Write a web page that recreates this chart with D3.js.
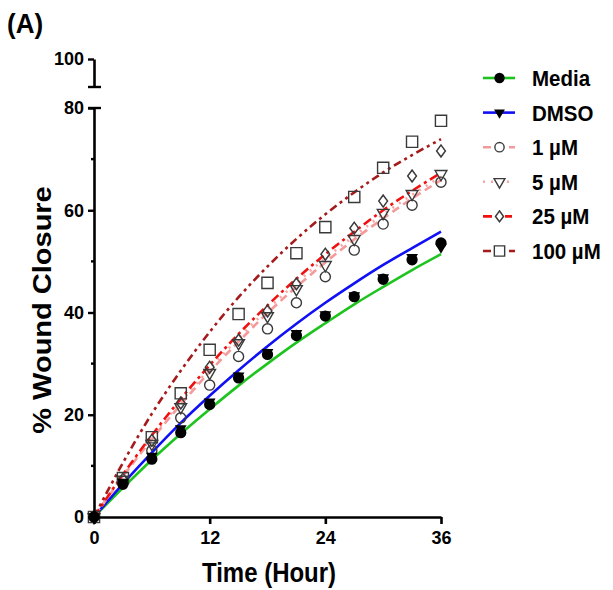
<!DOCTYPE html>
<html>
<head>
<meta charset="utf-8">
<script src="https://cdn.jsdelivr.net/npm/d3@7"></script>
<style>
  body { margin: 0; background: #fff; }
  svg text { font-family: Arial, 'Liberation Sans', sans-serif; font-weight: bold; fill: #000; }
</style>
</head>
<body>
<svg id="chart" width="613" height="590"></svg>
<script>
// time points (hours)
const hours = [0, 3, 6, 9, 12, 15, 18, 21, 24, 27, 30, 33, 36]

// measured % wound closure (markers)
const media   = [0, 6.4, 11.3, 16.5, 22.0, 27.2, 31.8, 35.5, 39.3, 43.1, 46.5, 50.3, 53.6]
const dmso    = [0, 6.8, 11.9, 17.3, 22.5, 27.6, 32.2, 35.9, 39.6, 43.3, 46.8, 50.8, 52.8]
const um1     = [0, 7.0, 13.0, 19.4, 25.8, 31.4, 36.8, 41.9, 47.0, 52.2, 57.3, 61.0, 65.5]
const um5     = [0, 7.3, 14.3, 21.5, 28.2, 34.0, 39.3, 44.6, 49.3, 54.4, 59.5, 63.2, 67.1]
const um25    = [0, 7.4, 15.0, 22.3, 29.3, 34.6, 40.3, 45.6, 51.4, 56.5, 61.8, 66.7, 71.6]
const um100   = [0, 7.6, 15.6, 24.2, 32.7, 39.7, 45.8, 51.6, 56.7, 62.6, 68.3, 73.4, 77.5]

// fitted curves at the same time points
const fitMedia = [0, 5.7, 11.2, 16.3, 21.1, 25.7, 30.0, 34.1, 37.9, 41.6, 45.0, 48.3, 51.4]
const fitDmso  = [0, 6.5, 12.6, 18.4, 23.7, 28.7, 33.4, 37.8, 41.9, 45.7, 49.3, 52.6, 55.8]
const fit1     = [0, 7.9, 15.2, 22.0, 28.4, 34.3, 39.9, 45.0, 49.8, 54.3, 58.4, 62.3, 65.9]
const fit5     = [0, 8.1, 15.6, 22.5, 29.0, 35.0, 40.6, 45.8, 50.6, 55.0, 59.2, 63.0, 66.6]
const fit25    = [0, 8.3, 16.0, 23.1, 29.7, 35.8, 41.4, 46.6, 51.4, 55.8, 60.0, 63.8, 67.3]
const fit100   = [0, 10.6, 20.2, 28.6, 36.2, 43.0, 49.0, 54.4, 59.2, 63.5, 67.4, 70.8, 73.9]

const labels = ['Media', 'DMSO', '1 \u00b5M', '5 \u00b5M', '25 \u00b5M', '100 \u00b5M']
const xTicks = [0, 12, 24, 36]
const yTicks = [0, 20, 40, 60, 80]
const yMinor = [10, 30, 50, 70]

const series = [
  { name: labels[0], pts: media, fit: fitMedia, color: '#1ec41e', dash: null, shape: 'circle', filled: true },
  { name: labels[1], pts: dmso, fit: fitDmso, color: '#1010f5', dash: null, shape: 'tri', filled: true },
  { name: labels[2], pts: um1, fit: fit1, color: '#f59a9a', dash: '8,5', shape: 'circle', filled: false },
  { name: labels[3], pts: um5, fit: fit5, color: '#f7a6a6', dash: '2,6', shape: 'tri', filled: false },
  { name: labels[4], pts: um25, fit: fit25, color: '#f01010', dash: '9,4,3,4', shape: 'diamond', filled: false },
  { name: labels[5], pts: um100, fit: fit100, color: '#a51a1a', dash: '8,4,3,4,3,4', shape: 'square', filled: false }
]

function draw() {
  const svg = d3.select('#chart')
  svg.selectAll('*').remove()

  const x = d3.scaleLinear().domain([0, 36]).range([94, 441])
  const y = d3.scaleLinear().domain([0, 80]).range([517, 108])
  const yTop = d3.scaleLinear().domain([95, 100]).range([87, 59])

  svg.append('text')
    .attr('transform', 'translate(7,33) scale(1,1.05)')
    .style('font-size', '26px')
    .text('(A)')

  // curves
  const line = d3.line()
    .x((d, i) => x(hours[i]))
    .y(d => y(d))
    .curve(d3.curveMonotoneX)

  series.forEach(s => {
    svg.append('path')
      .attr('d', line(s.fit))
      .attr('fill', 'none')
      .attr('stroke', s.color)
      .attr('stroke-width', 2.6)
      .attr('stroke-dasharray', s.dash)
  })

  // markers
  const sym = {
    circle: d3.symbol().type(d3.symbolCircle),
    tri: d3.symbol().type(d3.symbolTriangle),
    diamond: d3.symbol().type(d3.symbolDiamond),
    square: d3.symbol().type(d3.symbolSquare)
  }
  const sizes = { circle: 80, tri: 60, diamond: 50, square: 125 }

  function marker(g, s, cx, cy, k = 1) {
    const size = (s.filled && s.shape === 'circle' ? 100 : sizes[s.shape]) * k
    const p = g.append('path')
      .attr('d', sym[s.shape].size(size)())
      .attr('transform', `translate(${cx},${cy})` + (s.shape === 'tri' ? ' rotate(180)' : '') +
        (s.shape === 'diamond' ? ' scale(1.15,0.9)' : ''))
    if (s.filled) p.attr('fill', '#000')
    else p.attr('fill', 'none').attr('stroke', '#3a3a3a').attr('stroke-width', 1.4)
  }

  const markers = svg.append('g')
  series.slice().reverse().forEach(s => {
    s.pts.forEach((v, i) => marker(markers, s, x(hours[i]), y(v)))
  })

  // x axis
  const xAxis = svg.append('g')
    .attr('transform', 'translate(0,517)')
    .call(d3.axisBottom(x).tickValues(xTicks).tickSize(7).tickSizeOuter(0).tickPadding(7))
  xAxis.select('.domain').attr('stroke-width', 2.6)
  xAxis.selectAll('.tick line').attr('stroke-width', 2.6)
  xAxis.selectAll('.tick text').style('font-size', '18px')

  // y axis, lower part
  const yAxis = svg.append('g')
    .attr('transform', 'translate(94,0)')
    .call(d3.axisLeft(y).tickValues(yTicks).tickSize(6).tickSizeOuter(0).tickPadding(4))
  yAxis.select('.domain').attr('stroke-width', 2.6)
  yAxis.selectAll('.tick line').attr('stroke-width', 2.4)
  yAxis.selectAll('.tick text').style('font-size', '18px')

  svg.append('g').selectAll('line')
    .data(yMinor)
    .join('line')
    .attr('x1', 91).attr('x2', 94)
    .attr('y1', d => y(d)).attr('y2', d => y(d))
    .attr('stroke', '#000').attr('stroke-width', 2.4)

  // y axis, upper part above the break
  const yAxisTop = svg.append('g')
    .attr('transform', 'translate(94,0)')
    .call(d3.axisLeft(yTop).tickValues([100]).tickFormat(d3.format('d'))
      .tickSize(6).tickSizeOuter(0).tickPadding(4))
  yAxisTop.select('.domain').attr('stroke-width', 2.6)
  yAxisTop.selectAll('.tick line').attr('stroke-width', 2.4)
  yAxisTop.selectAll('.tick text').style('font-size', '18px')

  // break caps
  svg.append('g').selectAll('line')
    .data([yTop(95), y(80)])
    .join('line')
    .attr('x1', 88).attr('x2', 101)
    .attr('y1', d => d).attr('y2', d => d)
    .attr('stroke', '#000').attr('stroke-width', 2.4)

  // axis titles
  svg.append('text')
    .attr('transform', 'translate(269,582) scale(1,1.12)')
    .attr('text-anchor', 'middle')
    .style('font-size', '24px')
    .text('Time (Hour)')

  svg.append('text')
    .attr('transform', 'translate(51,310) rotate(-90) scale(1.16,1)')
    .attr('text-anchor', 'middle')
    .style('font-size', '25px')
    .text('% Wound Closure')

  // legend
  const legend = svg.append('g')
  series.forEach((s, i) => {
    const ly = 78 + i * 34.6
    legend.append('line')
      .attr('x1', 483).attr('x2', 515)
      .attr('y1', ly).attr('y2', ly)
      .attr('stroke', s.color)
      .attr('stroke-width', 2.6)
      .attr('stroke-dasharray', s.dash ? s.dash : null)
    if (!s.filled) {
      legend.append('rect')
        .attr('x', 493).attr('y', ly - 6).attr('width', 12).attr('height', 12)
        .attr('fill', '#fff')
    }
    marker(legend, s, 499.5, ly, 0.85)
    legend.append('text')
      .attr('transform', `translate(532,${ly + 8}) scale(1,1.06)`)
      .style('font-size', '20.5px')
      .text(s.name)
  })
}

document.addEventListener('DOMContentLoaded', draw, false)
</script>
</body>
</html>
